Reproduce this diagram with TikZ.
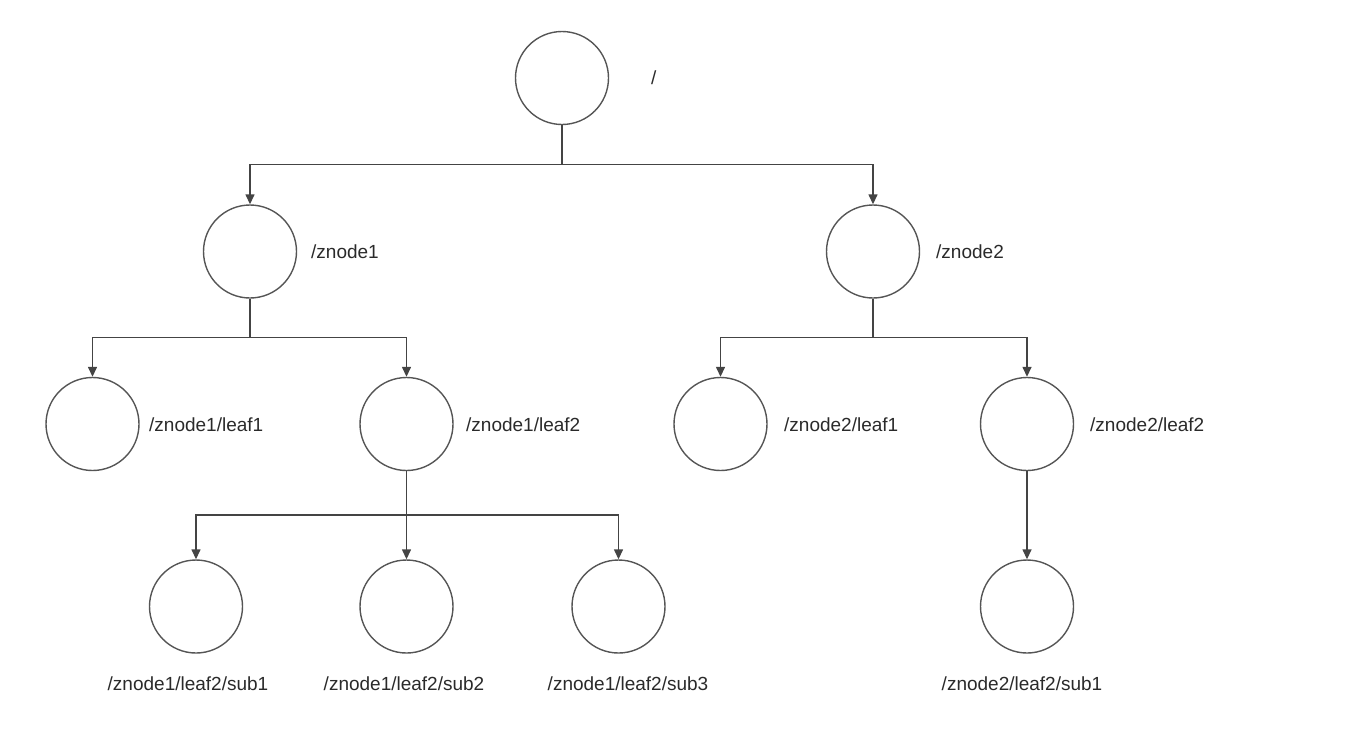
\documentclass[tikz,border=0pt]{standalone}
\usepackage{fontspec}
\setmainfont{Liberation Sans}
\usetikzlibrary{arrows.meta}
\definecolor{linec}{HTML}{444444}
\definecolor{circc}{HTML}{555555}
\definecolor{textc}{HTML}{2A2A2A}
\tikzset{
  zk/.style={circle,draw=circc,line width=1.4pt,minimum size=93pt,inner sep=0pt},
  lbl/.style={font=\fontsize{19}{22}\selectfont,text=textc,inner sep=0pt},
  conn/.style={draw=linec,line width=1.4pt},
  arr/.style={conn,-{Triangle[width=9pt,length=10pt]}}
}
\begin{document}
\begin{tikzpicture}[x=1pt,y=-1pt]
\useasboundingbox (0,0) rectangle (1354,748);
% nodes
\node[zk] (root) at (562,78) {};
\node[zk] (z1) at (250,251.5) {};
\node[zk] (z2) at (873,251.5) {};
\node[zk] (l11) at (92.5,424) {};
\node[zk] (l12) at (406.5,424) {};
\node[zk] (l21) at (720.5,424) {};
\node[zk] (l22) at (1027,424) {};
\node[zk] (s1) at (196,606.5) {};
\node[zk] (s2) at (406.5,606.5) {};
\node[zk] (s3) at (618.5,606.5) {};
\node[zk] (s4) at (1027,606.5) {};
% labels
\node[lbl,anchor=west] (troot) at (651,78) {/};
\node[lbl,anchor=west] (tz1) at (311,252) {/znode1};
\node[lbl,anchor=west] (tz2) at (936,252) {/znode2};
\node[lbl,anchor=west] (tl11) at (149,425) {/znode1/leaf1};
\node[lbl,anchor=west] (tl12) at (466,425) {/znode1/leaf2};
\node[lbl,anchor=west] (tl21) at (784,425) {/znode2/leaf1};
\node[lbl,anchor=west] (tl22) at (1090,425) {/znode2/leaf2};
\node[lbl] (ts1) at (188,684) {/znode1/leaf2/sub1};
\node[lbl] (ts2) at (404,684) {/znode1/leaf2/sub2};
\node[lbl] (ts3) at (628,684) {/znode1/leaf2/sub3};
\node[lbl] (ts4) at (1022,684) {/znode2/leaf2/sub1};
% junctions
\coordinate (j0) at (562,164.5);
\coordinate (j1) at (250,337.5);
\coordinate (j2) at (873,337.5);
\coordinate (j3) at (406.5,515);
% connectors
\draw[conn] (root.south) -- (j0);
\draw[arr] (j0) -| (z1.north);
\draw[arr] (j0) -| (z2.north);
\draw[conn] (z1.south) -- (j1);
\draw[arr] (j1) -| (l11.north);
\draw[arr] (j1) -| (l12.north);
\draw[conn] (z2.south) -- (j2);
\draw[arr] (j2) -| (l21.north);
\draw[arr] (j2) -| (l22.north);
\draw[conn] (l12.south) -- (j3);
\draw[arr] (j3) -| (s1.north);
\draw[arr] (j3) -- (s2.north);
\draw[arr] (j3) -| (s3.north);
\draw[arr] (l22.south) -- (s4.north);
\end{tikzpicture}
\end{document}
